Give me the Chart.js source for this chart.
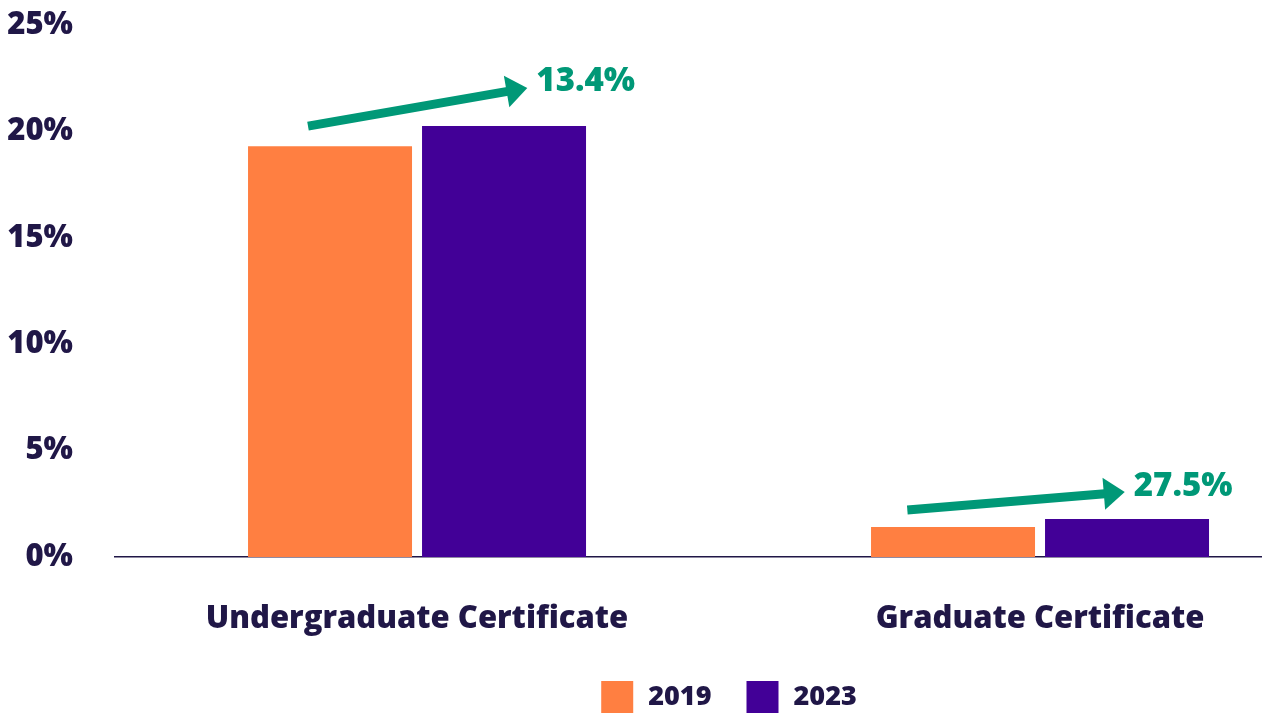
<!DOCTYPE html>
<html>
<head>
<meta charset="utf-8">
<script src="https://cdn.jsdelivr.net/npm/chart.js@4/dist/chart.umd.min.js"></script>
<style>
  html, body { margin: 0; padding: 0; background: #ffffff; overflow: hidden; }
  #wrap { width: 1262px; height: 713px; }
</style>
</head>
<body>
<div id="wrap"><canvas id="grafico" width="1262" height="713"></canvas></div>
<script>
const categorias = ['Undergraduate Certificate', 'Graduate Certificate'];
const valores2019 = [19.3, 1.41];
const valores2023 = [20.25, 1.79];
const etiquetasY = [0, 5, 10, 15, 20, 25];
const series = ['2019', '2023'];
const coloresSeries = ['#FF7F41', '#420097'];

// flechas de crecimiento (desde, hasta en unidades de categoria / %) y su texto
const flechasDesde = [[-0.175, 20.25], [0.787, 2.21]];
const flechasHasta = [[0.177, 22.04], [1.136, 3.05]];
const crecimientos = ['13.4%', '27.5%'];

const azulOscuro = '#201747';
const verde = '#009877';
const fuente = '"Open Sans"';

const flechasPlugin = {
  id: 'flechas',
  afterDatasetsDraw (chart) {
    const ctx = chart.ctx;
    const x = chart.scales.x;
    const y = chart.scales.y;
    ctx.save();
    for (let i = 0; i < crecimientos.length; i++) {
      const x1 = x.getPixelForValue(flechasDesde[i][0]);
      const y1 = y.getPixelForValue(flechasDesde[i][1]);
      const x2 = x.getPixelForValue(flechasHasta[i][0]);
      const y2 = y.getPixelForValue(flechasHasta[i][1]);
      const largo = Math.hypot(x2 - x1, y2 - y1);
      const ux = (x2 - x1) / largo;
      const uy = (y2 - y1) / largo;
      const cabeza = 21;
      const ancho = 16;
      const bx = x2 - ux * cabeza;
      const by = y2 - uy * cabeza;

      ctx.strokeStyle = verde;
      ctx.lineWidth = 9;
      ctx.lineCap = 'butt';
      ctx.beginPath();
      ctx.moveTo(x1, y1);
      ctx.lineTo(bx + ux, by + uy);
      ctx.stroke();

      ctx.fillStyle = verde;
      ctx.beginPath();
      ctx.moveTo(x2, y2);
      ctx.lineTo(bx - uy * ancho, by + ux * ancho);
      ctx.lineTo(bx + uy * ancho, by - ux * ancho);
      ctx.closePath();
      ctx.fill();

      ctx.font = '800 33px ' + fuente;
      ctx.textAlign = 'left';
      ctx.textBaseline = 'middle';
      ctx.fillText(crecimientos[i], x2 + 9, y2 - 6);
    }
    ctx.restore();
  }
};

const leyendaPlugin = {
  id: 'leyenda',
  afterDraw (chart) {
    const ctx = chart.ctx;
    ctx.save();
    ctx.font = '800 27px ' + fuente;
    ctx.textBaseline = 'middle';
    ctx.textAlign = 'left';
    let total = 0;
    for (let i = 0; i < series.length; i++) {
      total += 32 + 15 + ctx.measureText(series[i]).width;
      if (i < series.length - 1) total += 35;
    }
    let posX = 729 - total / 2;
    const posY = 681;
    for (let i = 0; i < series.length; i++) {
      ctx.fillStyle = coloresSeries[i];
      ctx.fillRect(posX, posY, 32, 32);
      posX += 47;
      ctx.fillStyle = azulOscuro;
      ctx.fillText(series[i], posX, posY + 16);
      posX += ctx.measureText(series[i]).width + 35;
    }
    ctx.restore();
  }
};

const grafico = new Chart(document.getElementById('grafico'), {
  type: 'bar',
  data: {
    datasets: [
      {
        label: series[0],
        data: valores2019.map((v, i) => ({x: i, y: v})),
        backgroundColor: coloresSeries[0]
      },
      {
        label: series[1],
        data: valores2023.map((v, i) => ({x: i, y: v})),
        backgroundColor: coloresSeries[1]
      }
    ]
  },
  options: {
    responsive: false,
    animation: false,
    categoryPercentage: 0.5586,
    barPercentage: 0.9425,
    layout: { padding: { top: 25, left: 0, right: 0, bottom: 0 } },
    plugins: {
      legend: { display: false },
      tooltip: { enabled: false }
    },
    scales: {
      x: {
        type: 'linear',
        offset: false,
        min: -0.4848,
        max: 1.3563,
        grid: { display: false, drawTicks: false },
        border: { display: true, color: azulOscuro, width: 1.5 },
        afterBuildTicks: (scale) => {
          scale.ticks = categorias.map((c, i) => ({ value: i }));
        },
        afterFit: (scale) => {
          scale.height = 156;
          scale.paddingLeft = 0;
          scale.paddingRight = 0;
        },
        ticks: {
          autoSkip: false,
          maxRotation: 0,
          padding: 44,
          color: azulOscuro,
          font: { family: fuente, size: 31, weight: '800' },
          callback: (v) => categorias[v]
        }
      },
      y: {
        min: 0,
        max: 25,
        grid: { display: false, drawTicks: false },
        border: { display: false },
        afterBuildTicks: (scale) => {
          scale.ticks = etiquetasY.map((v) => ({ value: v }));
        },
        afterFit: (scale) => {
          scale.width = 115;
          scale.paddingTop = 0;
          scale.paddingBottom = 0;
        },
        ticks: {
          padding: 42,
          color: azulOscuro,
          font: { family: fuente, size: 31, weight: '800' },
          callback: (v) => v + '%'
        }
      }
    }
  },
  plugins: [flechasPlugin, leyendaPlugin]
});
</script>
</body>
</html>
